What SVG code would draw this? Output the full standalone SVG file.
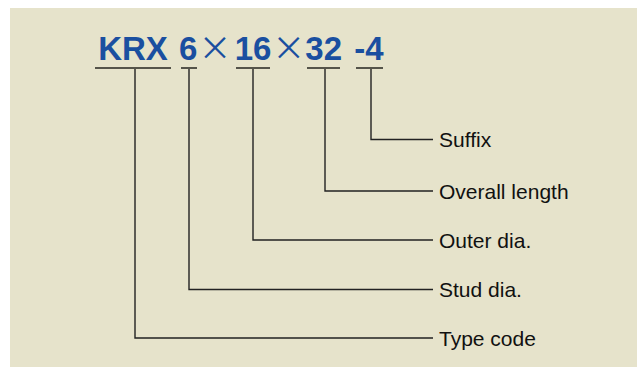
<svg xmlns="http://www.w3.org/2000/svg" width="637" height="367" viewBox="0 0 637 367">
<style>
.bg{fill:#e6e3cb}
.code{font-family:"Liberation Sans",Arial,sans-serif;font-weight:bold;font-size:33px;fill:#1a4fa0;text-anchor:middle}
.times{font-family:"Noto Sans CJK JP","Liberation Sans",sans-serif;font-weight:normal;font-size:33px;fill:#1a4fa0;text-anchor:middle}
.ul{stroke:#55544a;stroke-width:2;fill:none}
.conn{stroke:#222;stroke-width:1.4;fill:none}
.label{font-family:"Liberation Sans",Arial,sans-serif;font-size:21px;fill:#111}
</style>
<rect class="bg" x="10" y="8" width="627" height="359"/>
<g id="title">
<text class="code" x="133" y="59.5">KRX</text>
<text class="code" x="188.3" y="59.5">6</text>
<text class="times" x="215" y="59.5">×</text>
<text class="code" x="253" y="59.5">16</text>
<text class="times" x="288.7" y="59.5">×</text>
<text class="code" x="323.7" y="59.5">32</text>
<text class="code" x="369" y="59.5">-4</text>
<line class="ul" x1="95" y1="68" x2="171" y2="68"/>
<line class="ul" x1="181" y1="68" x2="197" y2="68"/>
<line class="ul" x1="236" y1="68" x2="270" y2="68"/>
<line class="ul" x1="307" y1="68" x2="340" y2="68"/>
<line class="ul" x1="356" y1="68" x2="383" y2="68"/>
</g>
<g id="connectors">
<polyline class="conn" points="371,69 371,139.5 433,139.5"/>
<polyline class="conn" points="325,69 325,191 433,191"/>
<polyline class="conn" points="253,69 253,240 433,240"/>
<polyline class="conn" points="189,69 189,289.5 433,289.5"/>
<polyline class="conn" points="135,69 135,338 433,338"/>
</g>
<g id="suffix"><text class="label" x="439" y="147">Suffix</text></g>
<g id="overall-length"><text class="label" x="439" y="198.5">Overall length</text></g>
<g id="outer-dia"><text class="label" x="439" y="247.5">Outer dia.</text></g>
<g id="stud-dia"><text class="label" x="439" y="297">Stud dia.</text></g>
<g id="type-code"><text class="label" x="439" y="345.5">Type code</text></g>
</svg>
